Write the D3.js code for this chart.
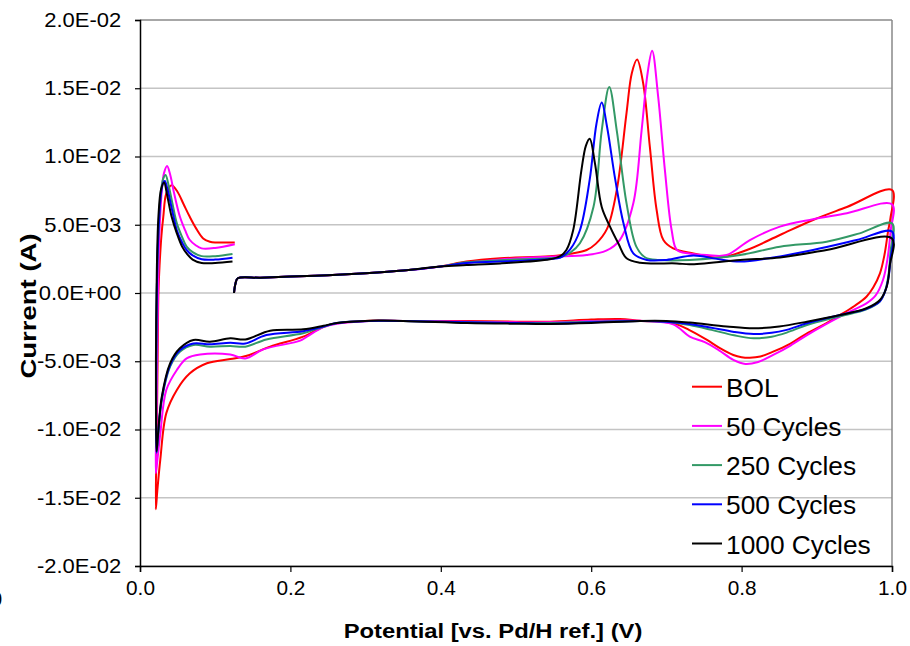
<!DOCTYPE html>
<html><head><meta charset="utf-8">
<script src="https://cdn.jsdelivr.net/npm/d3@7"></script>
<style>body{margin:0;background:#fff} svg{display:block;font-family:Arial,"Liberation Sans",sans-serif}</style>
</head><body><svg id="c" width="910" height="646"></svg>
<script>
// ---- data (x: potential V, y: current mA; converted to A when drawn) ----
const seriesNames = ["BOL", "50 Cycles", "250 Cycles", "500 Cycles", "1000 Cycles"];
const seriesColors = ["#ff0000", "#ff00ff", "#339966", "#0000ff", "#000000"];

const lowAnodic = [[0.125,0],[0.127,0.7],[0.130,1.08],[0.16,1.12],[0.2,1.2],[0.25,1.3],[0.3,1.45],[0.35,1.65],[0.4,1.95]];

const bol = lowAnodic.concat([[0.434,2.3],[0.479,2.54],[0.545,2.7],[0.575,2.9],[0.594,3.15],[0.606,3.6],[0.621,4.7],[0.634,7.55],[0.647,13.2],[0.654,16.1],[0.661,17.1],[0.669,15.4],[0.678,10.7],[0.687,6.08],[0.696,3.88],[0.709,3.27],[0.736,2.9],[0.771,2.6],[0.807,3.15],[0.851,4.25],[0.895,5.35],[0.94,6.3],[1.0,7.55],
 [0.998,5.5],[0.995,4.6],[0.99,2.8],[0.984,1.44],[0.975,0.4],[0.966,-0.27],[0.95,-0.95],[0.931,-1.61],[0.91,-2.3],[0.887,-2.95],[0.865,-3.7],[0.842,-4.3],[0.825,-4.65],[0.811,-4.74],[0.8,-4.7],[0.789,-4.54],[0.77,-4.0],[0.754,-3.44],[0.73,-2.7],[0.709,-2.22],[0.665,-2.03],[0.638,-1.9],[0.6,-1.95],[0.545,-2.1],[0.5,-2.1],[0.435,-2.05],[0.35,-2.05],[0.306,-2.03],[0.262,-2.22],[0.244,-2.47],[0.217,-3.2],[0.173,-3.93],[0.142,-4.6],[0.12,-4.84],[0.089,-5.15],[0.066,-5.9],[0.049,-7.1],[0.035,-8.8],[0.027,-12.2],[0.023,-14.5],[0.021,-15.85],
 [0.0225,-9.5],[0.0238,-3],[0.0245,0],[0.026,2],[0.0285,4.2],[0.031,5.6],[0.035,7.3],[0.042,7.9],[0.05,7.4],[0.058,6.5],[0.066,5.6],[0.075,4.7],[0.084,4.0],[0.093,3.75],[0.102,3.7],[0.126,3.7]]);

const c50 = lowAnodic.concat([[0.434,2.2],[0.479,2.45],[0.545,2.66],[0.594,2.78],[0.62,3.1],[0.638,3.88],[0.656,6.57],[0.667,11.9],[0.675,16.1],[0.681,17.75],[0.689,14.4],[0.698,9.0],[0.707,4.6],[0.714,3.15],[0.73,2.9],[0.754,2.78],[0.78,2.78],[0.811,3.88],[0.851,4.86],[0.895,5.4],[0.94,5.84],[1.0,6.5],
 [0.998,4.5],[0.994,2.5],[0.988,0.95],[0.978,-0.2],[0.966,-0.76],[0.95,-1.2],[0.931,-1.73],[0.91,-2.35],[0.887,-3.08],[0.865,-3.85],[0.842,-4.54],[0.822,-5.05],[0.805,-5.2],[0.789,-4.9],[0.77,-4.2],[0.751,-3.6],[0.731,-3.2],[0.709,-2.3],[0.665,-2.03],[0.6,-2.05],[0.545,-2.15],[0.5,-2.15],[0.435,-2.1],[0.35,-2.05],[0.306,-2.05],[0.262,-2.25],[0.244,-2.5],[0.222,-3.2],[0.213,-3.49],[0.164,-4.13],[0.14,-4.79],[0.12,-4.5],[0.08,-4.5],[0.062,-4.79],[0.049,-5.64],[0.035,-7.1],[0.027,-10.3],[0.023,-12.3],[0.021,-13.2],
 [0.022,-9],[0.0232,-3],[0.024,0],[0.025,3],[0.027,5.8],[0.029,7.5],[0.032,8.8],[0.036,9.3],[0.04,8.7],[0.045,7.4],[0.053,5.6],[0.06,4.6],[0.066,3.9],[0.074,3.5],[0.082,3.27],[0.1,3.3],[0.126,3.57]]);

const c250 = lowAnodic.concat([[0.434,2.25],[0.479,2.4],[0.545,2.55],[0.559,2.62],[0.572,2.95],[0.585,3.64],[0.603,6.3],[0.614,11.9],[0.624,15.1],[0.634,11.9],[0.647,6.57],[0.66,3.4],[0.672,2.6],[0.69,2.42],[0.731,2.42],[0.798,2.78],[0.851,3.39],[0.913,3.76],[0.957,4.37],[1.0,5.1],
 [0.998,3],[0.995,1.2],[0.99,0],[0.984,-0.6],[0.966,-1.2],[0.931,-1.7],[0.887,-2.34],[0.86,-2.9],[0.84,-3.2],[0.816,-3.32],[0.79,-3.1],[0.76,-2.7],[0.731,-2.35],[0.7,-2.1],[0.665,-2.05],[0.6,-2.1],[0.545,-2.2],[0.5,-2.2],[0.435,-2.15],[0.35,-2.05],[0.306,-2.05],[0.262,-2.2],[0.244,-2.47],[0.217,-2.95],[0.168,-3.4],[0.14,-3.93],[0.12,-3.88],[0.093,-3.93],[0.071,-3.81],[0.053,-4.3],[0.04,-5.4],[0.029,-7.84],[0.024,-10.5],[0.022,-11.7],
 [0.0215,-7],[0.022,-2],[0.023,2],[0.025,5],[0.028,7.5],[0.031,8.4],[0.034,8.65],[0.038,7.9],[0.043,6.6],[0.049,5.1],[0.056,4.1],[0.062,3.4],[0.07,3.0],[0.082,2.7],[0.1,2.7],[0.123,2.86]]);

const c500 = lowAnodic.concat([[0.434,2.2],[0.479,2.3],[0.545,2.5],[0.559,2.6],[0.572,3.2],[0.585,4.6],[0.598,8.3],[0.607,12.4],[0.614,13.95],[0.621,12.2],[0.632,8.3],[0.643,5.1],[0.656,2.9],[0.674,2.42],[0.70,2.42],[0.736,2.75],[0.767,2.5],[0.798,2.3],[0.842,2.6],[0.895,3.15],[0.953,3.88],[1.0,4.5],
 [0.998,2.5],[0.995,1],[0.99,0],[0.984,-0.6],[0.966,-1.15],[0.931,-1.61],[0.887,-2.22],[0.86,-2.7],[0.84,-2.92],[0.816,-3.0],[0.79,-2.85],[0.76,-2.55],[0.731,-2.27],[0.7,-2.1],[0.665,-2.05],[0.6,-2.15],[0.545,-2.25],[0.5,-2.2],[0.435,-2.15],[0.35,-2.05],[0.306,-2.05],[0.262,-2.2],[0.244,-2.45],[0.217,-2.8],[0.168,-3.08],[0.14,-3.7],[0.12,-3.65],[0.093,-3.76],[0.071,-3.7],[0.053,-4.2],[0.04,-5.3],[0.029,-7.7],[0.024,-10.4],[0.022,-11.7],
 [0.0215,-7],[0.022,-2],[0.023,2],[0.025,5],[0.028,7.3],[0.031,8.1],[0.033,8.2],[0.037,7.5],[0.043,6.0],[0.049,4.6],[0.056,3.7],[0.062,3.15],[0.07,2.75],[0.082,2.47],[0.1,2.45],[0.123,2.59]]);

const c1000 = lowAnodic.concat([[0.434,2.05],[0.479,2.17],[0.545,2.47],[0.559,2.71],[0.567,3.15],[0.576,4.6],[0.587,9.0],[0.593,10.8],[0.598,11.3],[0.605,9.5],[0.614,6.3],[0.625,4.86],[0.636,3.64],[0.647,2.54],[0.665,2.22],[0.714,2.17],[0.731,2.1],[0.798,2.42],[0.851,2.6],[0.913,3.15],[1.0,4.0],
 [0.997,2],[0.993,0.46],[0.984,-0.51],[0.966,-1.12],[0.931,-1.61],[0.887,-2.1],[0.85,-2.45],[0.816,-2.59],[0.78,-2.45],[0.731,-2.17],[0.7,-2.05],[0.665,-2.05],[0.6,-2.2],[0.545,-2.27],[0.5,-2.25],[0.435,-2.2],[0.35,-2.05],[0.306,-2.03],[0.262,-2.2],[0.244,-2.4],[0.217,-2.66],[0.173,-2.76],[0.14,-3.4],[0.12,-3.32],[0.093,-3.57],[0.071,-3.44],[0.053,-4.05],[0.04,-5.15],[0.029,-7.6],[0.024,-10.3],[0.022,-11.6],
 [0.0212,-7],[0.0215,-2],[0.0225,2],[0.0245,5.6],[0.028,7.6],[0.032,8.1],[0.036,7.2],[0.042,5.6],[0.049,4.37],[0.056,3.4],[0.062,2.9],[0.07,2.45],[0.082,2.2],[0.1,2.2],[0.123,2.3]]);

const seriesData = [bol, c50, c250, c500, c1000];

const xTicks = [0, 0.2, 0.4, 0.6, 0.8, 1.0];
const xTickLabels = ["0.0", "0.2", "0.4", "0.6", "0.8", "1.0"];
const yTicks = [0.02, 0.015, 0.01, 0.005, 0, -0.005, -0.01, -0.015, -0.02];
const yTickLabels = ["2.0E-02", "1.5E-02", "1.0E-02", "5.0E-03", "0.0E+00", "-5.0E-03", "-1.0E-02", "-1.5E-02", "-2.0E-02"];
const xTitle = "Potential [vs. Pd/H ref.] (V)";
const yTitle = "Current (A)";

// ---- layout ----
const L = 140, R = 892, T = 20, B = 566;
const svg = d3.select("#c");
const x = d3.scaleLinear().domain([0, 1]).range([L, R]);
const y = d3.scaleLinear().domain([-0.02, 0.02]).range([B, T]);

// gridlines
svg.append("g").selectAll("line").data(yTicks).join("line")
  .attr("x1", L).attr("x2", R).attr("y1", d => y(d)).attr("y2", d => y(d))
  .attr("stroke", "#c4c4c4").attr("stroke-width", 1.5);
// plot border top/right
svg.append("line").attr("x1", L).attr("x2", R).attr("y1", T).attr("y2", T).attr("stroke", "#999").attr("stroke-width", 1.5);
svg.append("line").attr("x1", R).attr("x2", R).attr("y1", T).attr("y2", B).attr("stroke", "#888").attr("stroke-width", 1.5);

// axes
const yAxis = d3.axisLeft(y).tickValues(yTicks).tickSize(5).tickPadding(12)
  .tickFormat((d, i) => yTickLabels[i]);
const gy = svg.append("g").attr("transform", `translate(${L},0)`).call(yAxis);
const xAxis = d3.axisBottom(x).tickValues(xTicks).tickSize(6).tickPadding(9)
  .tickFormat((d, i) => xTickLabels[i]);
const gx = svg.append("g").attr("transform", `translate(0,${B})`).call(xAxis);
[gx, gy].forEach(g => {
  g.select(".domain").attr("stroke", "#000").attr("stroke-width", 1.5);
  g.selectAll(".tick line").attr("stroke", "#000").attr("stroke-width", 1.2);
  g.selectAll(".tick text").attr("fill", "#000").style("font-size", "20px").style("font-family", "Arial, 'Liberation Sans', sans-serif");
});
gy.selectAll(".tick text").attr("transform", "scale(1.1,1)");
gx.selectAll(".tick text").attr("transform", "scale(1.04,1)");

// curves
const line = d3.line().x(d => x(d[0])).y(d => y(d[1] * 1e-3)).curve(d3.curveCatmullRom.alpha(0.5));
svg.append("g").selectAll("path").data(seriesData).join("path")
  .attr("d", line).attr("fill", "none")
  .attr("stroke", (d, i) => seriesColors[i]).attr("stroke-width", 2)
  .attr("stroke-linejoin", "round");

// titles
svg.append("text").attr("transform", "translate(493,638) scale(1.19,1)").attr("text-anchor", "middle")
  .style("font-size", "20px").style("font-weight", "bold").text(xTitle);
svg.append("text").attr("transform", "translate(36,306) rotate(-90) scale(1.25,1)").attr("text-anchor", "middle")
  .style("font-size", "22px").style("font-weight", "bold").text(yTitle);
// clipped stray label at the left edge
svg.append("text").attr("x", -9).attr("y", 606).style("font-size", "20px").text("0");

// legend
const lg = svg.append("g").selectAll("g").data(seriesNames).join("g")
  .attr("transform", (d, i) => `translate(692,${386.7 + i * 39.2})`);
lg.append("line").attr("x1", 0).attr("x2", 30).attr("y1", 0).attr("y2", 0)
  .attr("stroke", (d, i) => seriesColors[i]).attr("stroke-width", 2);
lg.append("text").attr("x", 34).attr("y", 10).style("font-size", "26.3px").text(d => d);
</script></body></html>
